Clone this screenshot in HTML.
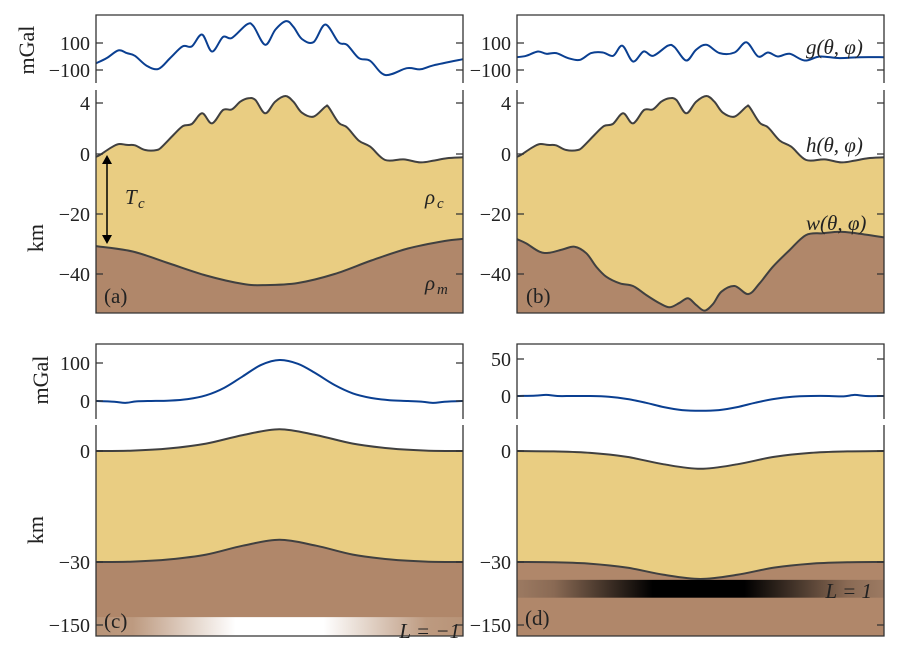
<!DOCTYPE html>
<html><head><meta charset="utf-8"><style>
body{margin:0;background:#fff}
svg{display:block;font-family:"Liberation Serif","DejaVu Serif",serif}
</style></head><body>
<svg id="fig" width="900" height="654" viewBox="0 0 900 654" xmlns="http://www.w3.org/2000/svg">
<defs>
<linearGradient id="gradC" x1="0" x2="1" y1="0" y2="0">
<stop offset="0" stop-color="#b89478"/><stop offset="0.1" stop-color="#bd9a80"/><stop offset="0.38" stop-color="#ffffff"/><stop offset="0.62" stop-color="#ffffff"/><stop offset="0.9" stop-color="#bd9a80"/><stop offset="1" stop-color="#b89478"/>
</linearGradient>
<linearGradient id="gradD" x1="0" x2="1" y1="0" y2="0">
<stop offset="0" stop-color="#9c7a62"/><stop offset="0.1" stop-color="#8a6a54"/><stop offset="0.37" stop-color="#000"/><stop offset="0.62" stop-color="#000"/><stop offset="0.9" stop-color="#8a6a54"/><stop offset="1" stop-color="#9c7a62"/>
</linearGradient>
</defs>
<g id="layer"></g>
</svg>
<script>
// ---- data ----
const hX=[0,0.011,0.038,0.061,0.084,0.106,0.134,0.166,0.18,0.211,0.237,0.261,0.289,0.316,0.346,0.37,0.393,0.415,0.434,0.461,0.488,0.516,0.538,0.561,0.593,0.625,0.634,0.661,0.684,0.716,0.747,0.788,0.838,0.884,0.92,0.956,1];
const hKm=[-0.9,-0.3,0.45,0.78,0.71,0.68,0.31,0.31,0.58,1.49,2.2,2.35,3.19,2.4,3.45,3.5,4.1,4.37,4.24,3.19,4.1,4.55,4.1,3.24,2.93,3.71,3.66,2.46,2.09,1.05,0.58,-2.0,-1.8,-2.8,-2.2,-1.4,-1.1];
const mohoAX=[0,0.1,0.2,0.3,0.4,0.46,0.55,0.65,0.75,0.85,0.95,1];
const mohoAKm=[-30.7,-32.5,-36.5,-40.5,-43.3,-43.7,-43,-40,-35.5,-31.5,-29,-28.3];
const mohoBX=[0,0.025,0.062,0.089,0.125,0.157,0.189,0.216,0.243,0.28,0.316,0.352,0.389,0.416,0.443,0.466,0.488,0.511,0.534,0.557,0.593,0.63,0.661,0.697,0.743,0.788,0.834,0.879,0.924,1];
const mohoBKm=[-28.4,-29.8,-32.6,-32.9,-31.8,-30.9,-33.1,-37.6,-40.9,-43.1,-44,-47,-49.8,-51.1,-49.6,-48.1,-50.3,-52.2,-50,-45.9,-44,-46.7,-43.1,-37.6,-32,-27,-26.4,-25.9,-26.4,-27.8];
const gAX=[0,0.029,0.061,0.084,0.106,0.138,0.17,0.202,0.236,0.261,0.289,0.316,0.346,0.37,0.411,0.429,0.461,0.489,0.518,0.538,0.561,0.593,0.625,0.661,0.684,0.716,0.747,0.788,0.847,0.884,0.92,1];
const gAVal=[-50,-12,45,25,5,-68,-92,-12,75,75,162,37,145,137,237,225,87,200,262,220,130,107,237,105,87,-12,-32,-137,-87,-95,-65,-20];
const gBX=[0,0.025,0.057,0.08,0.107,0.139,0.171,0.202,0.234,0.262,0.287,0.316,0.345,0.371,0.411,0.429,0.461,0.488,0.516,0.552,0.593,0.625,0.657,0.684,0.711,0.743,0.784,0.825,0.879,0.934,1];
const gBVal=[-5,5,37,20,25,-12,-25,25,30,5,80,-37,37,5,80,70,-30,50,87,25,30,105,0,30,0,20,-30,0,-12,-5,-5];
const cX=[0,0.05,0.08,0.11,0.15,0.2,0.25,0.3,0.35,0.4,0.45,0.5,0.55,0.6,0.65,0.7,0.75,0.8,0.85,0.89,0.92,0.95,1];
const gCVal=[0,-2,-5,-1,0,1,5,15,35,65,95,108,98,72,42,20,8,2,0,-2,-5,-2,0];
const gDVal=[0,0.5,1.5,0,0,0,-1,-4,-9,-15,-19,-20,-19,-15,-9,-4,-1,0,0,-0.5,1.5,0,0];
const sX=[0,0.1,0.2,0.3,0.4,0.5,0.6,0.7,0.8,0.9,1];
const surfCKm=[0,0.1,0.7,2,4.3,5.9,4.3,2,0.7,0.1,0];
const mohoCKm=[-30,-29.9,-29.3,-28,-25.6,-24,-25.6,-28,-29.3,-29.9,-30];
const surfDKm=[0,-0.1,-0.5,-1.6,-3.6,-4.8,-3.6,-1.6,-0.5,-0.1,0];
const mohoDKm=[-30,-30.6,-33.2,-40.7,-54.3,-62.4,-54.3,-40.7,-33.2,-30.6,-30];
const tickAB_g=[100,-100], tickAB_km=[4,0,-20,-40];
const tickC_g=[100,0], tickD_g=[50,0], tickCD_km=[0,-30,-150];

// ---- scales ----
const NS='http://www.w3.org/2000/svg';
const L=document.getElementById('layer');
function xs(f,p){return p?517+f*367:96+f*367;}
const yG_AB=g=>56.5-g*0.135;
const yK_AB=k=>k>=0?154-k*12.75:154-k*3.0;
const yG_C=g=>401-g*0.38;
const yG_D=g=>396-g*0.74;
const yK_CD=k=>k>=-30?451-k*3.7:562+(-30-k)*0.525;
function mk(tag,attrs){const e=document.createElementNS(NS,tag);for(const k in attrs)e.setAttribute(k,attrs[k]);L.appendChild(e);return e;}
function pts(X,V,p,yf){return X.map((x,i)=>[xs(x,p),yf(V[i])]);}
function cr(P){let d='';for(let i=0;i<P.length-1;i++){const p0=P[Math.max(i-1,0)],p1=P[i],p2=P[i+1],p3=P[Math.min(i+2,P.length-1)];
 const c1=[p1[0]+(p2[0]-p0[0])/6,p1[1]+(p2[1]-p0[1])/6],c2=[p2[0]-(p3[0]-p1[0])/6,p2[1]-(p3[1]-p1[1])/6];
 d+=' C'+c1[0].toFixed(1)+','+c1[1].toFixed(1)+' '+c2[0].toFixed(1)+','+c2[1].toFixed(1)+' '+p2[0].toFixed(1)+','+p2[1].toFixed(1);}return d;}
function lineD(P){return 'M'+P[0][0].toFixed(1)+','+P[0][1].toFixed(1)+cr(P);}
function rev(P){return P.slice().reverse();}
const CRUST='#e9cd82', MANT='#b0876a', LN='#404040', BLUE='#0a3f91';
function txt(x,y,s,anchor,size,name,style){const t=mk('text',{x:x,y:y,'text-anchor':anchor||'end','font-size':size||17,fill:'#222'});if(style)t.setAttribute('font-style',style);t.textContent=s;return t;}

function panel(p,top,gBot,kTop,kBot,gX,gV,yG,gTicks,sXs,sV,mXs,mV,yK,kTicks,tag,band){
 const x0=xs(0,p),x1=xs(1,p);
 let r=mk('rect',{x:x0,y:kTop,width:x1-x0,height:kBot-kTop,fill:MANT});
 
 if(band){let b=mk('rect',{x:x0,y:yK(band[0]),width:x1-x0,height:yK(band[1])-yK(band[0]),fill:band[2]});
  }
 const S=pts(sXs,sV,p,yK),M=pts(mXs,mV,p,yK);
 let c=mk('path',{d:lineD(S)+' L'+M[M.length-1][0]+','+M[M.length-1][1]+cr(rev(M))+' Z',fill:CRUST});
 
 let w=mk('path',{d:'M'+x0+','+kTop+' L'+x1+','+kTop+' L'+S[S.length-1][0]+','+S[S.length-1][1]+cr(rev(S))+' Z',fill:'#fff'});
 
 let hl=mk('path',{d:lineD(S),fill:'none',stroke:LN,'stroke-width':2});
 
 let ml=mk('path',{d:lineD(M),fill:'none',stroke:LN,'stroke-width':2});
 
 let gl=mk('path',{d:lineD(pts(gX,gV,p,yG)),fill:'none',stroke:BLUE,'stroke-width':2});
 
 let sp1=mk('path',{d:`M${x0},${gBot} V${top} H${x1} V${gBot}`,fill:'none',stroke:'#333','stroke-width':1.3});
 
 let sp2=mk('path',{d:`M${x0},${kTop} V${kBot} H${x1} V${kTop}`,fill:'none',stroke:'#333','stroke-width':1.3});
 
 gTicks.forEach(v=>{const y=yG(v);
  let t=mk('path',{d:`M${x0},${y} h7 M${x1},${y} h-7`,stroke:'#333','stroke-width':1.2});
  
  txt(x0-6,y+7,(v<0?'\u2212':'')+Math.abs(v),'end',20,'gravity-tick-label');});
 kTicks.forEach(v=>{const y=yK(v);
  let t=mk('path',{d:`M${x0},${y} h7 M${x1},${y} h-7`,stroke:'#333','stroke-width':1.2});
  
  txt(x0-6,y+7,(v<0?'\u2212':'')+Math.abs(v),'end',20,'depth-tick-label');});
}
panel(false,15,83,90,313,gAX,gAVal,yG_AB,tickAB_g,hX,hKm,mohoAX,mohoAKm,yK_AB,tickAB_km,'a',null);
panel(true,15,83,90,313,gBX,gBVal,yG_AB,tickAB_g,hX,hKm,mohoBX,mohoBKm,yK_AB,tickAB_km,'b',null);
panel(false,344,419,425,636,cX,gCVal,yG_C,tickC_g,sX,surfCKm,sX,mohoCKm,yK_CD,tickCD_km,'c',[-135,-171,'url(#gradC)']);
panel(true,344,419,425,636,cX,gDVal,yG_D,tickD_g,sX,surfDKm,sX,mohoDKm,yK_CD,tickCD_km,'d',[-64,-98,'url(#gradD)']);

function vt(x,y,s,name){const t=mk('text',{x:x,y:y,'text-anchor':'middle','font-size':22,fill:'#222',transform:`rotate(-90 ${x} ${y})`});t.textContent=s;}
vt(34,50,'mGal','y-axis-title-gravity-top');vt(43,238,'km','y-axis-title-depth-top');
vt(48,380,'mGal','y-axis-title-gravity-bottom');vt(43,530,'km','y-axis-title-depth-bottom');
let ar=mk('path',{d:'M107,162 V237',stroke:'#000','stroke-width':1.5});

let ah=mk('path',{d:'M107,155 l-5,9 h10 Z M107,244 l-5,-9 h10 Z',fill:'#000'});

txt(125,204,'T','start',21,'tc-label','italic');txt(138,208,'c','start',15,'tc-subscript','italic');
txt(425,204,'\u03C1','start',21,'rho-c-label','italic');txt(437,208,'c','start',15,'rho-c-subscript','italic');
txt(425,290,'\u03C1','start',21,'rho-m-label','italic');txt(437,294,'m','start',15,'rho-m-subscript','italic');
txt(104,303,'(a)','start',21,'panel-label-a');txt(526,303,'(b)','start',21,'panel-label-b');
txt(104,628,'(c)','start',21,'panel-label-c');txt(525,625,'(d)','start',21,'panel-label-d');
txt(806,54,'g(\u03B8, \u03C6)','start',21,'gravity-label','italic');
txt(806,152,'h(\u03B8, \u03C6)','start',21,'topography-label','italic');
txt(806,230,'w(\u03B8, \u03C6)','start',21,'moho-label','italic');
txt(460,638,'L = \u22121','end',21,'lithosphere-label-c','italic');
txt(872,598,'L = 1','end',21,'lithosphere-label-d','italic');
</script>
</body></html>
